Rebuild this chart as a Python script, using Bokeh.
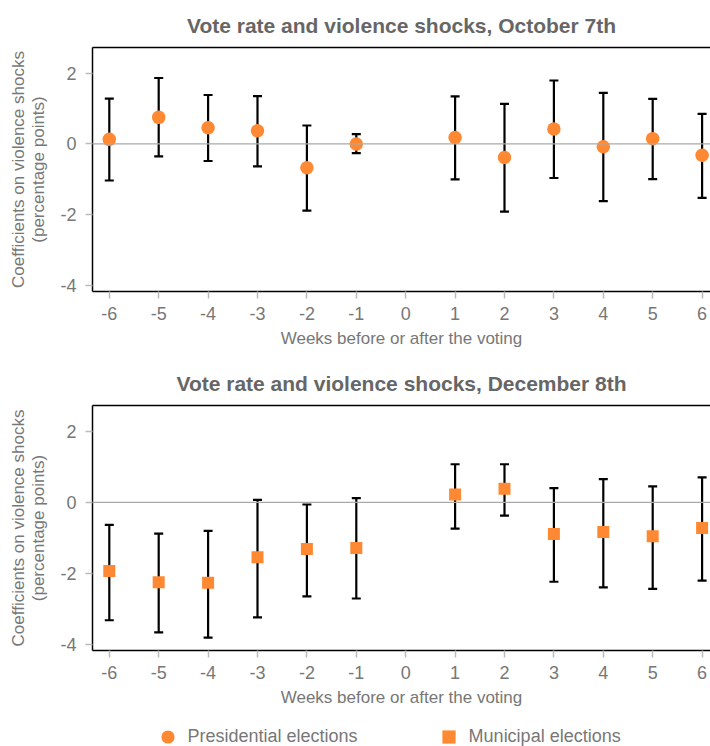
from bokeh.plotting import figure
from bokeh.models import Span, FixedTicker, Legend, LegendItem, LinearAxis
from bokeh.layouts import column
from bokeh.embed import file_html
from bokeh.resources import INLINE

# ---- data ----
weeks = [-6, -5, -4, -3, -2, -1, 1, 2, 3, 4, 5, 6]

oct_coef = [0.13, 0.75, 0.46, 0.37, -0.67, 0.00, 0.18, -0.38, 0.42, -0.08, 0.15, -0.32]
oct_upper = [1.28, 1.86, 1.38, 1.35, 0.52, 0.28, 1.34, 1.13, 1.79, 1.44, 1.27, 0.85]
oct_lower = [-1.03, -0.35, -0.48, -0.63, -1.88, -0.26, -1.00, -1.91, -0.96, -1.61, -0.99, -1.52]

dec_coef = [-1.93, -2.24, -2.26, -1.54, -1.31, -1.28, 0.22, 0.38, -0.89, -0.83, -0.95, -0.72]
dec_upper = [-0.63, -0.88, -0.80, 0.07, -0.06, 0.12, 1.07, 1.07, 0.40, 0.65, 0.45, 0.70]
dec_lower = [-3.31, -3.65, -3.80, -3.23, -2.64, -2.70, -0.74, -0.37, -2.23, -2.39, -2.43, -2.20]

x_ticks = [-6, -5, -4, -3, -2, -1, 0, 1, 2, 3, 4, 5, 6]
y_ticks = [-4, -2, 0, 2]
baseline = 0

titles = ["Vote rate and violence shocks, October 7th",
          "Vote rate and violence shocks, December 8th"]
series_labels = ["Presidential elections", "Municipal elections"]
x_label = "Weeks before or after the voting"
y_label = "Coefficients on violence shocks\n(percentage points)"

ORANGE = "#ff8833"
FONT = "Liberation Sans"
GRAY_TEXT = "#777777"


def make_fig(title, height, top, bottom):
    p = figure(width=710, height=height, output_backend="svg", toolbar_location=None,
               x_range=(-6.34, 6.17), y_range=(-4.16, 2.72),
               min_border_left=92, min_border_right=0,
               min_border_top=top, min_border_bottom=bottom,
               title=title)
    p.title.align = "center"
    p.title.text_font = FONT
    p.title.text_font_size = "21px"
    p.title.text_font_style = "bold"
    p.title.text_color = "#666666"
    p.title.standoff = 21
    p.outline_line_color = None
    p.xgrid.visible = False
    p.ygrid.visible = False
    p.background_fill_color = "white"
    p.border_fill_color = "white"

    xa = p.below[0]
    ya = p.left[0]
    for ax in (xa, ya):
        ax.axis_line_color = "black"
        ax.axis_line_width = 1.5
        ax.major_tick_line_color = "#bbbbbb"
        ax.major_tick_line_width = 1.5
        ax.major_tick_out = 7
        ax.major_tick_in = 0
        ax.minor_tick_line_color = None
        ax.major_label_text_font = FONT
        ax.major_label_text_font_size = "18px"
        ax.major_label_text_color = GRAY_TEXT
        ax.axis_label_text_font = FONT
        ax.axis_label_text_font_size = "17px"
        ax.axis_label_text_font_style = "normal"
        ax.axis_label_text_color = GRAY_TEXT
        ax.axis_label_text_line_height = 1.1

    xa.ticker = FixedTicker(ticks=x_ticks)
    ya.ticker = FixedTicker(ticks=y_ticks)
    xa.major_label_overrides = {t: str(t) for t in x_ticks}
    ya.major_label_overrides = {t: str(t) for t in y_ticks}
    xa.axis_label = x_label
    ya.axis_label = y_label
    xa.major_label_standoff = 8
    xa.axis_label_standoff = 6
    ya.major_label_standoff = 9
    ya.axis_label_standoff = 9

    top_axis = LinearAxis(ticker=FixedTicker(ticks=[]), axis_line_color="black",
                          axis_line_width=1.5, major_tick_out=0, major_tick_in=0,
                          minor_tick_line_color=None, major_label_text_font_size="0px",
                          major_label_standoff=0)
    p.add_layout(top_axis, "above")

    p.add_layout(Span(location=baseline, dimension="width",
                      line_color="#aaaaaa", line_width=1.2))
    return p


def add_errorbars(p, x, lo, hi):
    p.segment(x0=x, y0=lo, x1=x, y1=hi, line_color="black", line_width=2.2)
    p.scatter(x=x, y=hi, marker="dash", size=9, line_color="black", line_width=2.2)
    p.scatter(x=x, y=lo, marker="dash", size=9, line_color="black", line_width=2.2)


p1 = make_fig(titles[0], 358, 47, 67)
add_errorbars(p1, weeks, oct_lower, oct_upper)
p1.scatter(x=weeks, y=oct_coef, marker="circle", size=13.5,
           fill_color=ORANGE, line_color=None)

p2 = make_fig(titles[1], 352, 47, 60)
add_errorbars(p2, weeks, dec_lower, dec_upper)
p2.scatter(x=weeks, y=dec_coef, marker="square", size=12,
           fill_color=ORANGE, line_color=None)

# legend strip (legend-only renderers, no visible data)
nan = float("nan")
p3 = figure(width=710, height=36, output_backend="svg", toolbar_location=None,
            x_range=(0, 1), y_range=(0, 1), x_axis_type=None, y_axis_type=None,
            min_border_left=0, min_border_right=0,
            min_border_top=0, min_border_bottom=0)
p3.outline_line_color = None
p3.xgrid.visible = False
p3.ygrid.visible = False
r_circle = p3.scatter(x=[nan], y=[nan], marker="circle",
                      fill_color=ORANGE, line_color=None)
r_square = p3.scatter(x=[nan], y=[nan], marker="square",
                      fill_color=ORANGE, line_color=None)
legend = Legend(items=[LegendItem(label=series_labels[0], renderers=[r_circle]),
                       LegendItem(label=series_labels[1], renderers=[r_square])],
                orientation="horizontal", location=(58.5, -6.5),
                border_line_color=None, background_fill_alpha=0,
                label_text_font=FONT, label_text_font_size="18px",
                label_text_color=GRAY_TEXT, spacing=74, glyph_width=33,
                glyph_height=33, label_standoff=4, padding=0, margin=0)
p3.add_layout(legend)

layout = column(p1, p2, p3, spacing=0)

with open("out.html", "w") as f:
    f.write(file_html(layout, INLINE))
